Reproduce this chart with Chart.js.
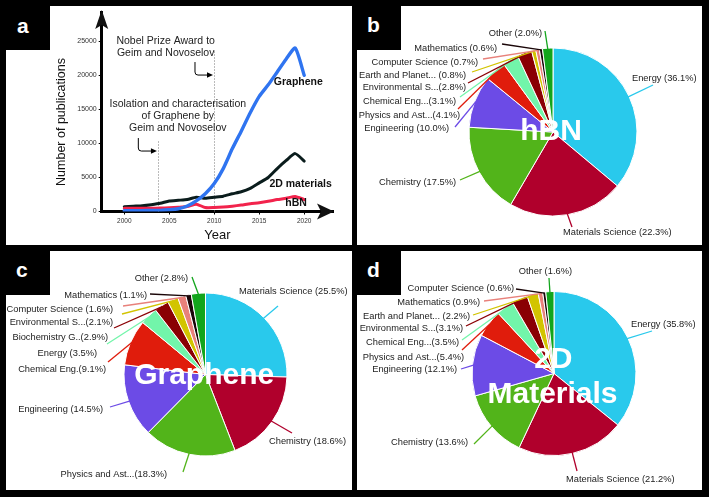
<!DOCTYPE html>
<html>
<head>
<meta charset="utf-8">
<title>Graphene, hBN and 2D materials publications</title>
<script src="https://cdn.jsdelivr.net/npm/chart.js@4.4.1/dist/chart.umd.min.js"></script>
<style>
  html, body { margin: 0; padding: 0; background: #000; }
  body { position: relative; width: 709px; height: 497px; overflow: hidden; font-family: "Liberation Sans", Arial, sans-serif; }
  .panel { position: absolute; background: #fff; }
  .tab { position: absolute; width: 44px; height: 44px; background: #000; }
  .tag { position: absolute; color: #fff; font-weight: bold; font-size: 21px; line-height: 21px; }
  canvas { position: absolute; left: 0; top: 0; }
</style>
</head>
<body>
<div class="panel" style="left:6px;top:6px;width:346px;height:239px"></div>
<div class="panel" style="left:357px;top:6px;width:345px;height:239px"></div>
<div class="panel" style="left:6px;top:251px;width:346px;height:239px"></div>
<div class="panel" style="left:357px;top:251px;width:345px;height:239px"></div>
<div class="tab" style="left:6px;top:6px"></div>
<div class="tab" style="left:357px;top:6px"></div>
<div class="tab" style="left:6px;top:251px"></div>
<div class="tab" style="left:357px;top:251px"></div>
<div class="tag" style="left:17px;top:15px">a</div>
<div class="tag" style="left:367px;top:14px">b</div>
<div class="tag" style="left:16px;top:259px">c</div>
<div class="tag" style="left:367px;top:259px">d</div>
<canvas id="trendChart" width="709" height="497"></canvas>
<canvas id="hbnChart" width="709" height="497"></canvas>
<canvas id="grapheneChart" width="709" height="497"></canvas>
<canvas id="materialsChart" width="709" height="497"></canvas>
<script>
var FONT = '"Liberation Sans", Arial, Helvetica, sans-serif';
Chart.defaults.font.family = FONT;
Chart.defaults.animation = false;

// ---- panel a: publications per year ----
var years = [2000, 2001, 2002, 2003, 2004, 2005, 2006, 2007, 2008, 2009, 2010,
             2011, 2012, 2013, 2014, 2015, 2016, 2017, 2018, 2019, 2020];
var grapheneCounts = [100, 110, 130, 150, 170, 250, 400, 800, 1550, 2600, 4100,
                      6300, 9200, 11800, 14500, 16900, 18600, 20500, 22400, 24000, 20000];
var materials2dCounts = [700, 780, 850, 1000, 1200, 1550, 1650, 1750, 2100, 1950, 2100,
                         2250, 2600, 2900, 3400, 4200, 5000, 6300, 7500, 8500, 7400];
var hbnCounts = [470, 470, 480, 480, 500, 550, 620, 720, 1080, 580, 580,
                 650, 780, 950, 1150, 1300, 1500, 1750, 1950, 2200, 1750];
var yearTicks = [2000, 2005, 2010, 2015, 2020];
var countTicks = [0, 5000, 10000, 15000, 20000, 25000];

// milestones (year, how high the dotted line goes)
var markerYears = [2003.7, 2010];
var markerTops = [10500, 23700];
var noteLines = [
  ['Nobel Prize Award to', 'Geim and Novoselov'],
  ['Isolation and characterisation', 'of Graphene by', 'Geim and Novoselov']
];
var noteAnchors = [[2004.6, 25080], [2005.95, 15790]];
var arrowPaths = [[2007.86, 21950, 20040, 2009.86], [2001.56, 10790, 8880, 2003.63]];
var seriesTags = [['Graphene', 2019.35, 18960], ['2D materials', 2019.6, 4040], ['hBN', 2019.1, 1290]];

function points(values) {
  return values.map(function (v, i) { return { x: years[i], y: v }; });
}

var trendDecor = {
  id: 'trendDecor',
  beforeDatasetsDraw: function (chart) {
    var ctx = chart.ctx, xs = chart.scales.x, ys = chart.scales.y;
    ctx.save();
    ctx.strokeStyle = '#777';
    ctx.lineWidth = 1;
    ctx.setLineDash([1, 2]);
    markerYears.forEach(function (yr, i) {
      var x = Math.round(xs.getPixelForValue(yr)) + 0.5;
      ctx.beginPath();
      ctx.moveTo(x, ys.getPixelForValue(0));
      ctx.lineTo(x, ys.getPixelForValue(markerTops[i]));
      ctx.stroke();
    });
    ctx.restore();
  },
  afterDraw: function (chart) {
    var ctx = chart.ctx, xs = chart.scales.x, ys = chart.scales.y, area = chart.chartArea;
    ctx.save();
    // notes
    ctx.fillStyle = '#222';
    ctx.font = '10.5px ' + FONT;
    ctx.textAlign = 'center';
    ctx.textBaseline = 'middle';
    noteLines.forEach(function (lines, n) {
      var x = xs.getPixelForValue(noteAnchors[n][0]);
      var y = ys.getPixelForValue(noteAnchors[n][1]);
      lines.forEach(function (t, k) { ctx.fillText(t, x, y + k * 12); });
    });
    // bent arrows
    ctx.strokeStyle = '#000';
    ctx.fillStyle = '#000';
    ctx.lineWidth = 1;
    arrowPaths.forEach(function (a) {
      var x0 = xs.getPixelForValue(a[0]), y0 = ys.getPixelForValue(a[1]);
      var y1 = ys.getPixelForValue(a[2]), x1 = xs.getPixelForValue(a[3]);
      ctx.beginPath();
      ctx.moveTo(x0, y0);
      ctx.lineTo(x0, y1 - 3);
      ctx.quadraticCurveTo(x0, y1, x0 + 3, y1);
      ctx.lineTo(x1 - 5, y1);
      ctx.stroke();
      ctx.beginPath();
      ctx.moveTo(x1, y1);
      ctx.lineTo(x1 - 6, y1 - 2.8);
      ctx.lineTo(x1 - 6, y1 + 2.8);
      ctx.closePath();
      ctx.fill();
    });
    // series names
    ctx.fillStyle = '#111';
    ctx.font = 'bold 10.5px ' + FONT;
    seriesTags.forEach(function (s) {
      ctx.fillText(s[0], xs.getPixelForValue(s[1]), ys.getPixelForValue(s[2]));
    });
    // axis arrow heads
    ctx.beginPath();
    ctx.moveTo(area.left, area.top - 2);
    ctx.lineTo(area.left - 6.5, area.top + 17);
    ctx.lineTo(area.left, area.top + 13);
    ctx.lineTo(area.left + 6.5, area.top + 17);
    ctx.closePath();
    ctx.fill();
    ctx.beginPath();
    ctx.moveTo(area.right + 1, area.bottom);
    ctx.lineTo(area.right - 16, area.bottom - 8);
    ctx.lineTo(area.right - 12, area.bottom);
    ctx.lineTo(area.right - 16, area.bottom + 8);
    ctx.closePath();
    ctx.fill();
    // y axis title
    ctx.translate(62, 122);
    ctx.rotate(-Math.PI / 2);
    ctx.font = '12.5px ' + FONT;
    ctx.fillText('Number of publications', 0, 0);
    ctx.restore();
  }
};

function plainNumber(value) { return String(value); }

new Chart(document.getElementById('trendChart'), {
  type: 'line',
  data: {
    datasets: [
      { label: 'Graphene', data: points(grapheneCounts), borderColor: '#2f74f0', borderWidth: 3.4 },
      { label: 'hBN', data: points(hbnCounts), borderColor: '#f2234c', borderWidth: 3 },
      { label: '2D materials', data: points(materials2dCounts), borderColor: '#0a1c1c', borderWidth: 3 }
    ]
  },
  options: {
    responsive: false,
    layout: { padding: { left: 6, top: 12, right: 376, bottom: 252 } },
    elements: {
      point: { radius: 0 },
      line: { tension: 0.2, borderJoinStyle: 'round', borderCapStyle: 'round' }
    },
    plugins: { legend: { display: false }, tooltip: { enabled: false } },
    scales: {
      x: {
        type: 'linear',
        min: 1997.49,
        max: 2023.2,
        afterBuildTicks: function (axis) { axis.ticks = yearTicks.map(function (v) { return { value: v }; }); },
        afterFit: function (scale) { scale.height = 33.5; },
        ticks: { font: { size: 6.5 }, color: '#333', padding: 3, maxRotation: 0, callback: plainNumber },
        grid: { drawOnChartArea: false, tickLength: 3, color: '#000' },
        border: { width: 3, color: '#000' },
        title: { display: true, text: 'Year', font: { size: 13 }, color: '#111', padding: { top: 0, bottom: 2 } }
      },
      y: {
        type: 'linear',
        min: 0,
        max: 29300,
        afterBuildTicks: function (axis) { axis.ticks = countTicks.map(function (v) { return { value: v }; }); },
        afterFit: function (scale) { scale.width = 95.7; },
        ticks: { font: { size: 7 }, color: '#333', padding: 2, callback: plainNumber },
        grid: { drawOnChartArea: false, tickLength: 3, color: '#000' },
        border: { width: 3, color: '#000' }
      }
    }
  },
  plugins: [trendDecor]
});

// ---- panels b, c, d: subject areas ----
var sliceColors = ['#29c9ec', '#b0002c', '#52b41a', '#6c4be6', '#e01c0c', '#72f5aa',
                   '#8a0004', '#d2c400', '#e8817b', '#1a0608', '#12a51c'];

var hbnFields = ['Energy', 'Materials Science', 'Chemistry', 'Engineering', 'Physics and Ast...',
                 'Chemical Eng...', 'Environmental S...', 'Earth and Planet... ', 'Computer Science',
                 'Mathematics', 'Other'];
var hbnShares = [36.1, 22.3, 17.5, 10.0, 4.1, 3.1, 2.8, 0.8, 0.7, 0.6, 2.0];

var grapheneFields = ['Materials Science', 'Chemistry', 'Physics and Ast...', 'Engineering',
                      'Chemical Eng.', 'Energy', 'Biochemistry G..', 'Environmental S...',
                      'Computer Science', 'Mathematics', 'Other'];
var grapheneShares = [25.5, 18.6, 18.3, 14.5, 9.1, 3.5, 2.9, 2.1, 1.6, 1.1, 2.8];

var materials2dFields = ['Energy', 'Materials Science', 'Chemistry', 'Engineering', 'Physics and Ast...',
                         'Chemical Eng...', 'Environmental S...', 'Earth and Planet... ', 'Mathematics',
                         'Computer Science', 'Other'];
var materials2dShares = [35.8, 21.2, 13.6, 12.1, 5.4, 3.5, 3.1, 2.2, 0.9, 0.6, 1.6];

// label placement: text x, text y, align, leader end x, leader end y (page pixels)
var hbnLabelSpots = [
  [632, 78, 'left', 653, 85], [563, 232, 'left', 572, 227], [456, 182, 'right', 460, 180],
  [449, 128, 'right', 455, 127], [460, 115, 'right', 458, 109], [456, 101, 'right', 460, 97],
  [466, 87, 'right', 468, 83], [466, 75, 'right', 472, 72], [478, 62, 'right', 483, 59],
  [497, 48, 'right', 502, 44], [542, 33, 'right', 545, 31]
];
var grapheneLabelSpots = [
  [239, 291, 'left', 278, 306], [269, 441, 'left', 292, 433], [167, 474, 'right', 183, 472],
  [103, 409, 'right', 110, 407], [106, 369, 'right', 108, 362], [97, 353, 'right', 107, 344],
  [108, 337, 'right', 114, 328], [113, 322, 'right', 122, 314], [113, 309, 'right', 123, 306],
  [147, 295, 'right', 150, 294], [188, 278, 'right', 192, 277]
];
var materials2dLabelSpots = [
  [631, 324, 'left', 652, 331], [566, 479, 'left', 577, 471], [468, 442, 'right', 474, 444],
  [457, 369, 'right', 461, 369], [464, 357, 'right', 462, 350], [459, 342, 'right', 462, 340],
  [463, 328, 'right', 466, 326], [470, 316, 'right', 473, 315], [480, 302, 'right', 484, 301],
  [514, 288, 'right', 516, 289], [572, 271, 'right', 549, 278]
];

function sliceLabel(name, share) {
  var sep = /[. ]$/.test(name) ? '' : ' ';
  return name + sep + '(' + share.toFixed(1) + '%)';
}

function pieDecor(spots, title, titleOffsets) {
  return {
    id: 'pieDecor',
    afterDatasetsDraw: function (chart) {
      var ctx = chart.ctx;
      var arcs = chart.getDatasetMeta(0).data;
      var ds = chart.data.datasets[0];
      var names = chart.data.labels;
      ctx.save();
      arcs.forEach(function (arc, i) {
        var p = arc.getProps(['x', 'y', 'startAngle', 'endAngle', 'outerRadius']);
        var mid = (p.startAngle + p.endAngle) / 2;
        var s = spots[i];
        ctx.strokeStyle = ds.backgroundColor[i];
        ctx.lineWidth = 1.3;
        ctx.beginPath();
        ctx.moveTo(p.x + Math.cos(mid) * (p.outerRadius - 1), p.y + Math.sin(mid) * (p.outerRadius - 1));
        ctx.lineTo(s[3], s[4]);
        ctx.stroke();
        ctx.fillStyle = '#222';
        ctx.font = '9.3px ' + FONT;
        ctx.textAlign = s[2];
        ctx.textBaseline = 'middle';
        ctx.fillText(sliceLabel(names[i], ds.data[i]), s[0], s[1]);
      });
      var c = arcs[0].getProps(['x', 'y']);
      ctx.fillStyle = '#fff';
      ctx.font = 'bold 30px ' + FONT;
      ctx.textAlign = 'center';
      ctx.textBaseline = 'alphabetic';
      title.forEach(function (t, k) {
        ctx.fillText(t, c.x + titleOffsets[k][0], c.y + titleOffsets[k][1]);
      });
      ctx.restore();
    }
  };
}

function makePie(canvasId, fields, shares, padding, spots, title, titleOffsets) {
  return new Chart(document.getElementById(canvasId), {
    type: 'pie',
    data: {
      labels: fields,
      datasets: [{ data: shares, backgroundColor: sliceColors, borderColor: '#fff', borderWidth: 1 }]
    },
    options: {
      responsive: false,
      layout: { padding: padding },
      plugins: { legend: { display: false }, tooltip: { enabled: false } }
    },
    plugins: [pieDecor(spots, title, titleOffsets)]
  });
}

makePie('hbnChart', hbnFields, hbnShares,
  { left: 468.5, top: 47.5, right: 71.5, bottom: 280.5 },
  hbnLabelSpots, ['hBN'], [[-2, 8]]);
makePie('grapheneChart', grapheneFields, grapheneShares,
  { left: 123.5, top: 292.5, right: 421.5, bottom: 40.5 },
  grapheneLabelSpots, ['Graphene'], [[-1.3, 9.8]]);
makePie('materialsChart', materials2dFields, materials2dShares,
  { left: 471.5, top: 291, right: 72.5, bottom: 41 },
  materials2dLabelSpots, ['2D', 'Materials'], [[-0.7, -5.2], [-1.5, 29.8]]);
</script>
</body>
</html>
